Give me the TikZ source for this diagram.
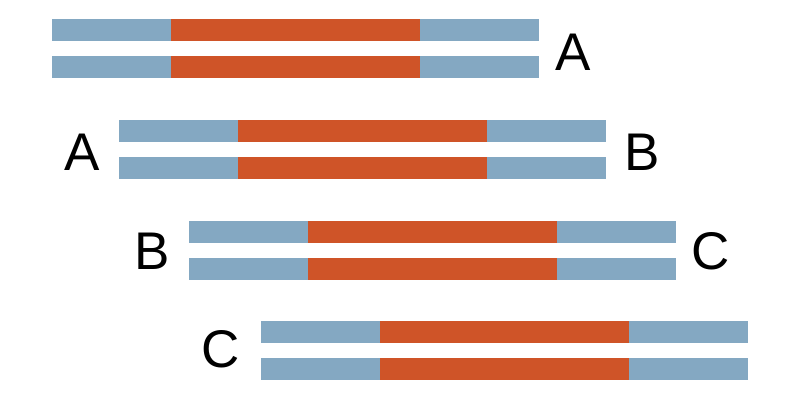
\documentclass[tikz,border=0pt]{standalone}
\usepackage{fontspec}
\setmainfont{Liberation Sans}
\definecolor{strandblue}{HTML}{84A8C2}
\definecolor{overlaporange}{HTML}{CF5428}

\begin{document}
\begin{tikzpicture}[x=0.5pt,y=-0.5pt,
  letter/.style={font=\fontsize{26.5}{30}\selectfont, inner sep=0pt}]
  \useasboundingbox (0,0) rectangle (800,400);
  %
  % PAIRED STRANDS
  \foreach \dx/\dy in {52/19,119/120,189/221,261/321}{
    \foreach \yy in {0,37}{
      \fill[strandblue] (\dx,\dy+\yy) rectangle ++(487,22);
      \fill[overlaporange] (\dx+119,\dy+\yy) rectangle ++(249,22);
    }
  }
  %
  % LABELS
  \node[letter] (a1) at (573,52) {A};
  \node[letter] (a2) at (82,152) {A};
  \node[letter] (b1) at (642,152) {B};
  \node[letter] (b2) at (152,251) {B};
  \node[letter] (c1) at (711,251) {C};
  \node[letter] (c2) at (221,349) {C};
  %
\end{tikzpicture}
\end{document}
